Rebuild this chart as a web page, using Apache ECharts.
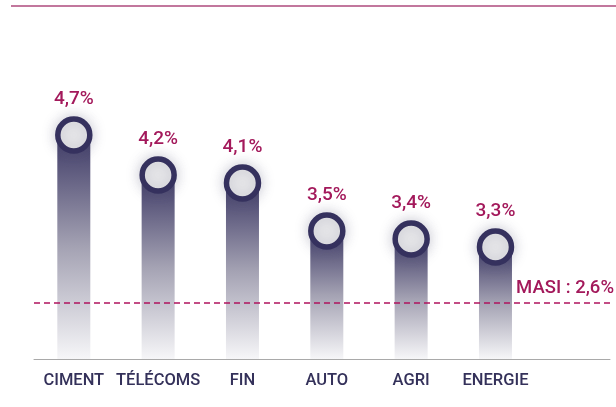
<!DOCTYPE html>
<html>
<head>
<meta charset="utf-8">
<script src="https://cdn.jsdelivr.net/npm/echarts@6/dist/echarts.min.js"></script>
<style>
  html, body { margin: 0; padding: 0; background: #fff; }
  #chart { width: 616px; height: 407px; }
</style>
</head>
<body>
<div id="chart"></div>
<script>
// secteurs et rendements
const categories = ['CIMENT', 'TÉLÉCOMS', 'FIN', 'AUTO', 'AGRI', 'ENERGIE']
const values = [4.7, 4.2, 4.1, 3.5, 3.4, 3.3]
const masiLabel = 'MASI'
const masiValue = 2.6

const fmt = v => v.toFixed(1).replace('.', ',') + '%'
const points = values.map((v, i) => [i, v])

const chart = echarts.init(document.getElementById('chart'))
chart.setOption({
  animation: false,
  textStyle: { fontFamily: 'Roboto' },
  graphic: [{
    type: 'line',
    shape: { x1: 11, y1: 6, x2: 616, y2: 6 },
    style: { stroke: '#c2779d', lineWidth: 2 }
  }],
  grid: { left: 34, right: 6, top: 31, bottom: 48 },
  xAxis: {
    type: 'value',
    min: -0.472,
    max: 6.358,
    axisLine: { show: true, lineStyle: { color: '#a9a9a9', width: 1 } },
    axisTick: { show: false },
    splitLine: { show: false },
    axisLabel: {
      customValues: categories.map((c, i) => i),
      formatter: v => categories[v],
      color: '#34315a',
      fontSize: 16.5,
      fontWeight: 500,
      margin: 13
    }
  },
  yAxis: {
    type: 'value',
    min: 1.9,
    max: 6,
    show: false
  },
  series: [{
    type: 'bar',
    data: points,
    barWidth: 33,
    itemStyle: {
      color: new echarts.graphic.LinearGradient(0, 0, 0, 1, [
        { offset: 0, color: '#3e3a66' },
        { offset: 0.5, color: '#a4a2b3' },
        { offset: 1, color: '#f6f6f8' }
      ])
    },
    markLine: {
      silent: true,
      symbol: 'none',
      lineStyle: { color: '#b0135d', type: [6, 4], width: 1.5 },
      label: {
        position: 'insideEndTop',
        formatter: masiLabel + ' : ' + fmt(masiValue),
        color: '#a3195b',
        fontSize: 18.5,
        fontWeight: 500,
        distance: [-4, 5]
      },
      data: [{ yAxis: masiValue }]
    }
  }, {
    type: 'scatter',
    data: points,
    symbol: 'circle',
    symbolSize: 32,
    z: 5,
    itemStyle: {
      opacity: 1,
      color: '#e9e9eb',
      borderColor: '#35315e',
      borderWidth: 5.5,
      shadowBlur: 14,
      shadowColor: 'rgba(80,80,110,0.28)'
    },
    label: {
      show: true,
      position: 'top',
      distance: 8,
      formatter: p => fmt(p.value[1]),
      color: '#a3195b',
      fontSize: 19,
      fontWeight: 500
    }
  }]
})
</script>
</body>
</html>
